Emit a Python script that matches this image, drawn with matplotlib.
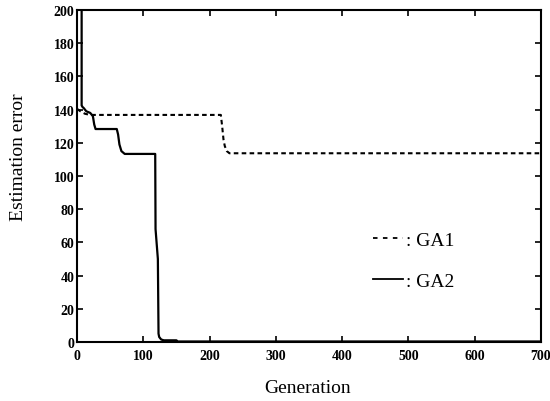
#!/usr/bin/env python3
# -*- coding: utf-8 -*-

'''Estimation error vs generation for GA1 / GA2.'''

##-Imports
import matplotlib
matplotlib.use('Agg')
import matplotlib.pyplot as plt
from matplotlib.lines import Line2D

##-Data
ga1_gen = [0, 5, 12, 20, 217, 219, 221, 223, 226, 230, 700]
ga1_err = [140.5, 139, 137.5, 136.8, 136.8, 130, 122, 118, 115, 113.7, 113.7]

ga2_gen = [7, 7, 8.5, 10, 14, 20, 24, 26, 28, 60, 62, 64, 67, 72,
           118, 118.5, 122, 123, 124, 127, 131, 150, 152, 700]
ga2_err = [200, 142.5, 141.5, 141, 139, 138, 136, 131, 128.3, 128.3, 125, 119, 115, 113.3,
           113.3, 68, 50, 5, 3, 1.5, 1, 1, 0.3, 0.3]

x_ticks = [0, 100, 200, 300, 400, 500, 600, 700]
y_ticks = [0, 20, 40, 60, 80, 100, 120, 140, 160, 180, 200]
series_names = [': GA1', ': GA2']

##-Plot
plt.rcParams['font.family'] = ['Liberation Serif', 'DejaVu Serif']

fig = plt.figure(figsize=(5.5, 4.02), dpi=100)
ax = fig.add_axes([0.14, 0.1468, 0.8436, 0.8258])

dash = (2.2, 1.6)
ax.plot(ga1_gen, ga1_err, color='black', lw=1.5, dashes=dash)
ax.plot(ga2_gen, ga2_err, color='black', lw=1.6)

ax.set_xlim(0, 700)
ax.set_ylim(0, 200)
ax.set_xticks(x_ticks)
ax.set_yticks(y_ticks)
ax.set_xticklabels([str(v) for v in x_ticks], fontweight='bold', fontsize=10)
ax.set_yticklabels([str(v) for v in y_ticks], fontweight='bold', fontsize=10)
ax.tick_params(direction='in', length=4, width=1.2, top=True, right=True)
ax.tick_params(axis='x', pad=5)
ax.tick_params(axis='y', pad=2)
for s in ax.spines.values():
    s.set_linewidth(1.5)

ax.set_xlabel('Generation', fontsize=14)
ax.set_ylabel('Estimation error', fontsize=14)
ax.xaxis.set_label_coords(0.496, -0.112)
ax.yaxis.set_label_coords(-0.108, 0.56)

# legend in the style of the original (no frame)
handles = [Line2D([], [], color='black', lw=1.3, dashes=(2.5, 3.0)),
           Line2D([], [], color='black', lw=1.3)]
ax.legend(handles, series_names, loc='upper left', bbox_to_anchor=(0.638, 0.333),
          frameon=False, fontsize=14, handlelength=1.55, handletextpad=0.15,
          labelspacing=1.2, borderpad=0, borderaxespad=0)

fig.savefig('out.png', dpi=100)
